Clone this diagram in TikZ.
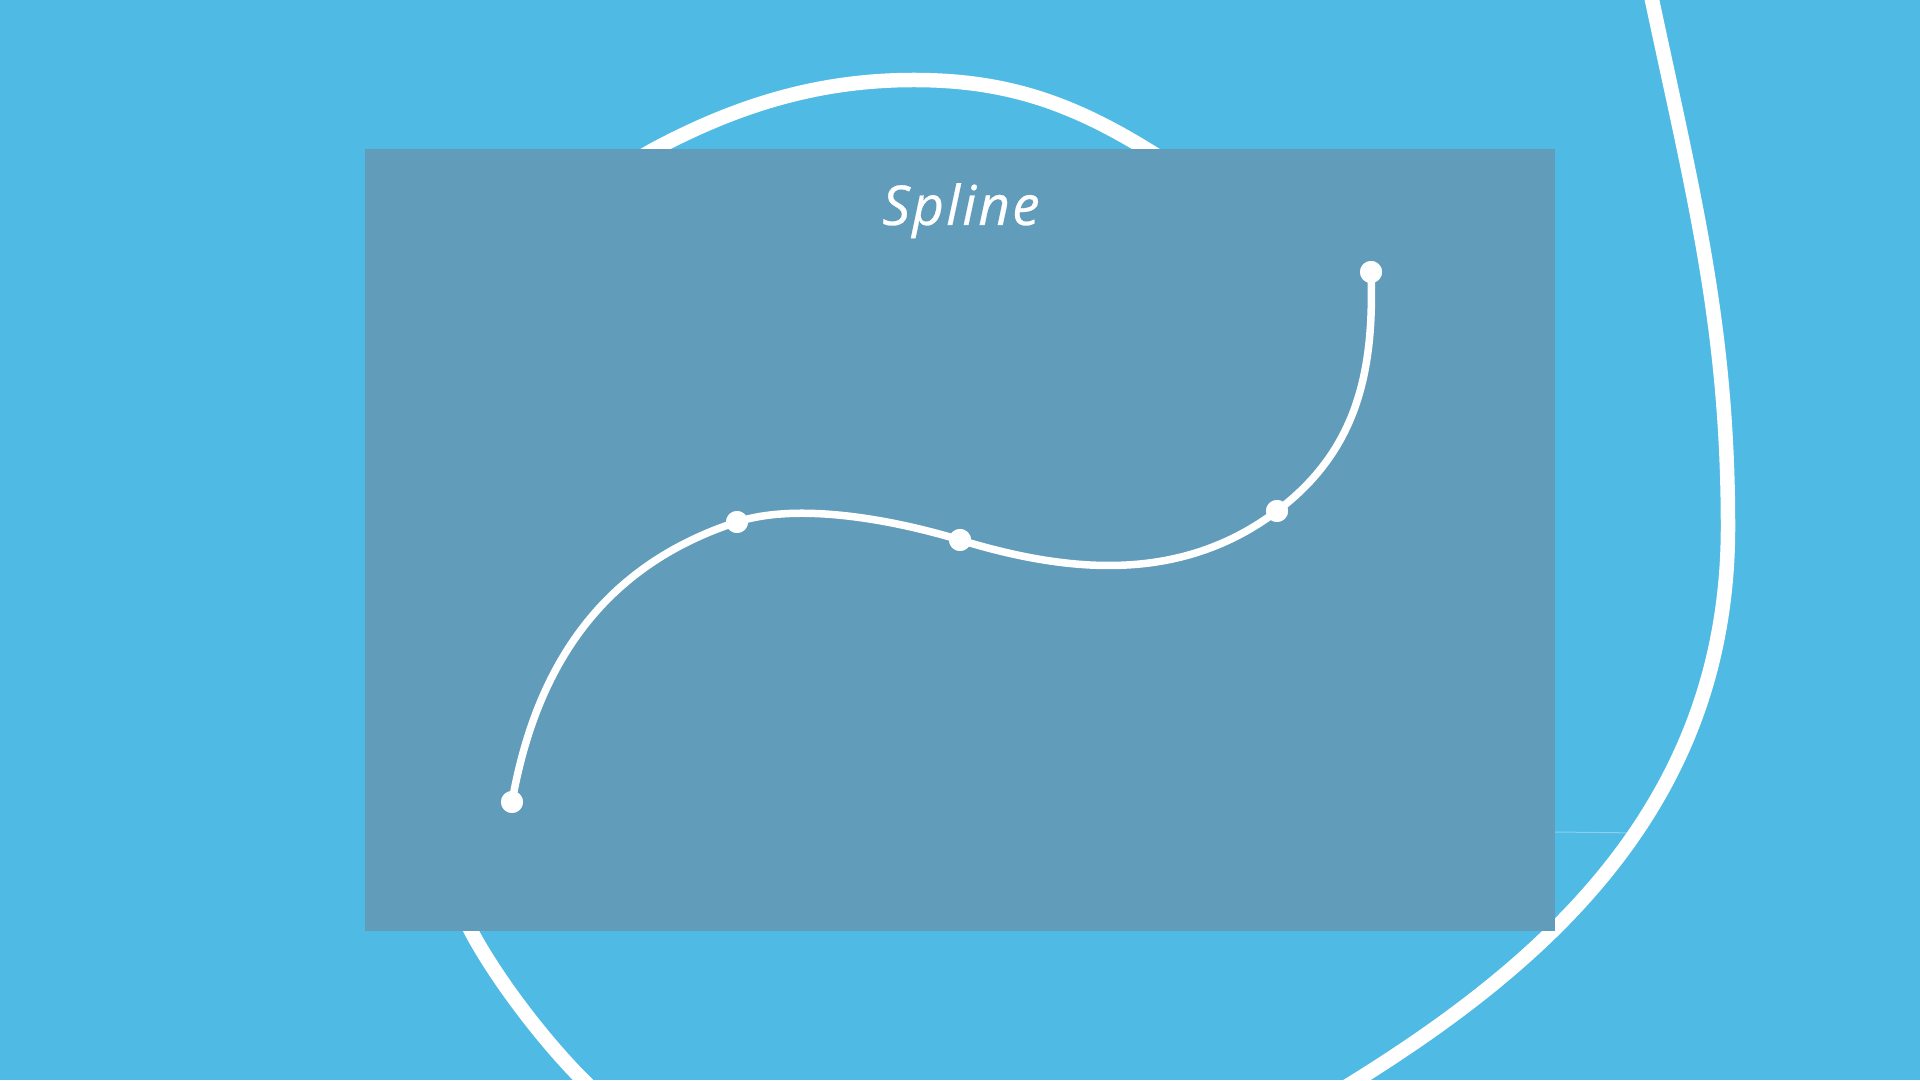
\documentclass[tikz,border=0pt]{standalone}
\usepackage{fontspec}
\newfontfamily\titlefont{Open Sans}[LetterSpace=4,FakeBold=0.5]
\definecolor{bgblue}{RGB}{79,186,228}
\definecolor{panel}{RGB}{97,156,186}
\definecolor{thinline}{RGB}{140,208,238}
\tikzset{
  bigloop/.style={draw=white,line width=14.5pt},
  splineline/.style={draw=white,line width=7.5pt},
  dotnode/.style={circle,fill=white,inner sep=0pt,minimum size=22pt},
  panelbox/.style={fill=panel,draw=none},
}
\begin{document}
\begin{tikzpicture}[x=1pt,y=1pt]
\useasboundingbox (0,0) rectangle (1920,1080);
\fill[bgblue] (0,0) rectangle (1920,1080);
\begin{scope}
\clip (0,0) rectangle (1920,1080);
\coordinate (l0) at (1641,1134);
\coordinate (la) at (1652,1080);
\coordinate (lb) at (1728,553);
\coordinate (lc) at (1640,247);
\coordinate (ld) at (1357,0);
\coordinate (lf) at (583,0);
\coordinate (lg) at (471,149);
\coordinate (lh) at (655,931);
\coordinate (li) at (914,1000);
\coordinate (lj) at (1146,931);
\coordinate (tl) at (1555,248);
\draw[thinline,line width=1pt] (tl) -- (lc);
\draw[bigloop] (l0) -- (la)
  .. controls +(-78:200) and +(90:200) .. (lb)
  .. controls +(-90:273) and +(32:230) .. (ld)
  .. controls +(212:300) and +(-45:300) .. (lf)
  .. controls +(135:55) and +(-62:55) .. (lg)
  .. controls +(118:100) and +(208:250) .. (lh)
  .. controls +(28:100) and +(180:90) .. (li)
  .. controls +(0:90) and +(148.5:90) .. (lj)
  -- ++(-31.5:60);
\end{scope}
\node[panelbox,minimum width=1190pt,minimum height=782pt,inner sep=0pt,anchor=south west] (panel) at (365,149) {};
\node[dotnode] (p1) at (512,278) {};
\node[dotnode] (p2) at (737,558) {};
\node[dotnode] (p3) at (960,540) {};
\node[dotnode] (p4) at (1277,569) {};
\node[dotnode] (p5) at (1371,808) {};
\draw[splineline] (p1.center) .. controls +(80:140) and +(198:140) .. (p2.center)
  .. controls +(18:66) and +(163:66) .. (p3.center)
  .. controls +(-17:118) and +(217:118) .. (p4.center)
  .. controls +(37:100) and +(-88:100) .. (p5.center);
\foreach \p in {p1,p2,p3,p4,p5} \fill[white] (\p) circle (11pt);
\node[font=\titlefont\itshape\fontsize{55}{60}\selectfont,text=white,anchor=base,inner sep=0pt] (title) at (961,855) {Spline};
\end{tikzpicture}
\end{document}
